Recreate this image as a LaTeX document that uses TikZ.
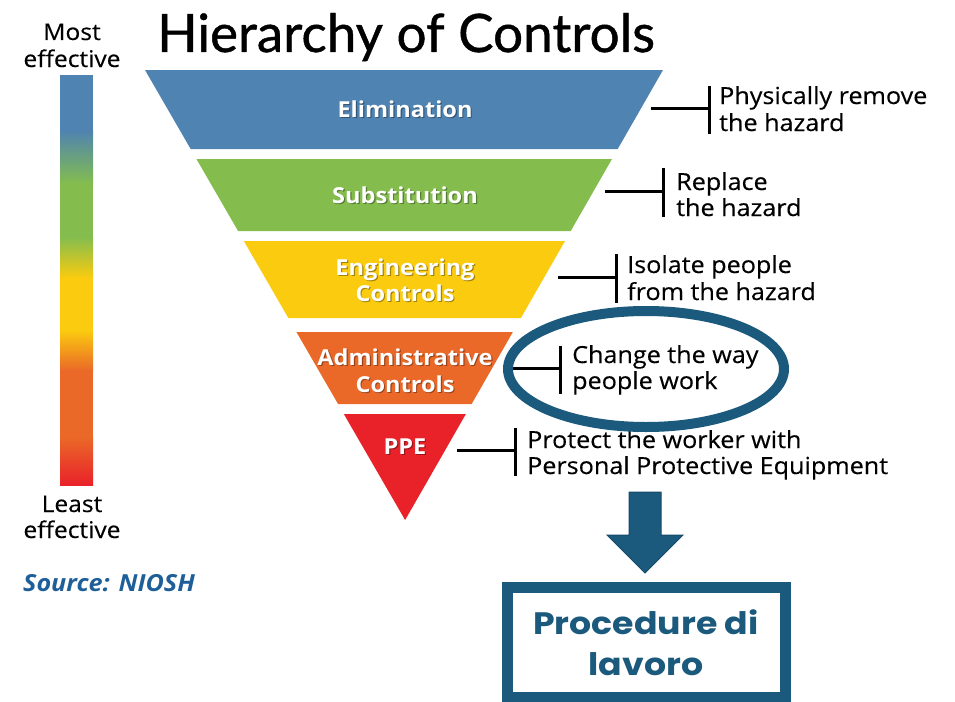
\documentclass[tikz,border=0pt]{standalone}
\usepackage{fontspec}
\setmainfont{Open Sans}[FakeStretch=1.07]
\newfontfamily\descfont{Open Sans}[FakeStretch=1.07,FakeBold=0.3]
\newfontfamily\titlefont{Lato}[FakeBold=0.8]
\newfontfamily\popfont{Poppins}[FakeStretch=1.12]
\definecolor{cblue}{HTML}{4F83B1}
\definecolor{cgreen}{HTML}{84BD4E}
\definecolor{cyellow}{HTML}{FBCB0F}
\definecolor{corange}{HTML}{EA6828}
\definecolor{cred}{HTML}{E9222A}
\definecolor{cdark}{HTML}{1B5A7C}
\definecolor{cdarker}{HTML}{134A69}
\definecolor{csource}{HTML}{1F5F99}
\tikzset{
  bandlabel/.style={text=white, font=\bfseries\fontsize{22}{26}\selectfont, anchor=base},
  shadowlabel/.style={text=black, opacity=0.35, font=\bfseries\fontsize{22}{26}\selectfont, anchor=base},
  desc/.style={text=black, font=\descfont\fontsize{23.5}{26}\selectfont, anchor=base west, inner sep=0pt},
  sidelabel/.style={text=black, font=\descfont\fontsize{23}{26}\selectfont, anchor=base, inner sep=0pt},
  bracket/.style={line width=3pt, black},
}
\newcommand\myband[3]{%
  \fill[#3] ({145+0.578*(#1-70)},#1) -- ({663-0.573*(#1-70)},#1) -- ({663-0.573*(#2-70)},#2) -- ({145+0.578*(#2-70)},#2) -- cycle;}
\newcommand\mylabel[3]{%
  \node[shadowlabel] at ($(#1,#2)+(1.2,1.6)$) {#3};
  \node[bandlabel] at (#1,#2) {#3};}
\usetikzlibrary{calc}
\begin{document}
\begin{tikzpicture}[x=1pt,y=-1pt]
\useasboundingbox (0,0) rectangle (955,701);
% gradient bar
\fill[cblue] (60,75) rectangle (93,131);
\shade[top color=cblue, bottom color=cgreen] (60,130) rectangle (93,184);
\fill[cgreen] (60,183) rectangle (93,238);
\shade[top color=cgreen, bottom color=cyellow] (60,237) rectangle (93,278);
\fill[cyellow] (60,277) rectangle (93,331);
\shade[top color=cyellow, bottom color=corange] (60,330) rectangle (93,371);
\fill[corange] (60,370) rectangle (93,438);
\shade[top color=corange, bottom color=cred] (60,437) rectangle (93,485);
\node[sidelabel] (most) at (72,40) {Most};
\node[sidelabel] (most2) at (72,67) {effective};
\node[sidelabel] (least) at (72,512) {Least};
\node[sidelabel] (least2) at (72,538) {effective};
\node[text=csource, font=\bfseries\itshape\fontsize{23.5}{26}\selectfont, anchor=base west, inner sep=0pt] (src) at (23,591) {Source: NIOSH};
% title
\node[anchor=base west, inner sep=0pt, font=\titlefont\fontsize{53}{60}\selectfont] (title) at (157,52) {Hierarchy of Controls};
% bands
\myband{70}{149}{cblue}
\myband{159}{231}{cgreen}
\myband{241}{318}{cyellow}
\myband{332}{404}{corange}
\myband{414}{520}{cred}
\mylabel{405}{117}{Elimination}
\mylabel{405}{203}{Substitution}
\mylabel{405}{275}{Engineering}
\mylabel{405}{301}{Controls}
\mylabel{405}{365}{Administrative}
\mylabel{405}{392}{Controls}
\mylabel{405}{454}{PPE}
% brackets
\coordinate (e1) at (651,108); \coordinate (e2) at (709,108);
\coordinate (e3) at (709,86); \coordinate (e4) at (709,134);
\draw[bracket] (e1) -- (e2); \draw[bracket] (e3) -- (e4);
\coordinate (s1) at (605,191); \coordinate (s2) at (663,191);
\coordinate (s3) at (663,168); \coordinate (s4) at (663,217);
\draw[bracket] (s1) -- (s2); \draw[bracket] (s3) -- (s4);
\coordinate (g1) at (558,277); \coordinate (g2) at (616,277);
\coordinate (g3) at (616,254); \coordinate (g4) at (616,303);
\draw[bracket] (g1) -- (g2); \draw[bracket] (g3) -- (g4);
\coordinate (a1) at (513,368); \coordinate (a2) at (560,368);
\coordinate (a3) at (560,346); \coordinate (a4) at (560,394);
\draw[bracket] (a1) -- (a2); \draw[bracket] (a3) -- (a4);
\coordinate (p1) at (457,450); \coordinate (p2) at (515,450);
\coordinate (p3) at (515,428); \coordinate (p4) at (515,476);
\draw[bracket] (p1) -- (p2); \draw[bracket] (p3) -- (p4);
% descriptions
\node[desc] (d1a) at (719,104) {Physically remove};
\node[desc] (d1b) at (719,131) {the hazard};
\node[desc] (d2a) at (676,190) {Replace};
\node[desc] (d2b) at (676,216) {the hazard};
\node[desc] (d3a) at (627,273) {Isolate people};
\node[desc] (d3b) at (627,300) {from the hazard};
\node[desc] (d4a) at (572,363) {Change the way};
\node[desc] (d4b) at (572,389) {people work};
\node[desc] (d5a) at (527,448) {Protect the worker with};
\node[desc] (d5b) at (527,474) {Personal Protective Equipment};
% ellipse highlight
\draw[cdark, line width=10pt] (646,369) ellipse [x radius=138, y radius=58];
% arrow
\filldraw[fill=cdark, draw=cdarker, line width=1pt] (629,492) -- (661,492) -- (661,535) -- (683,535) -- (645,573) -- (607,535) -- (629,535) -- cycle;
% box
\draw[cdark, line width=11pt] (507.5,587.5) rectangle (785,697);
\node[text=cdark, font=\popfont\bfseries\fontsize{31}{36}\selectfont, anchor=base, inner sep=0pt] (proc1) at (646,634) {Procedure di};
\node[text=cdark, font=\popfont\bfseries\fontsize{31}{36}\selectfont, anchor=base, inner sep=0pt] (proc2) at (646,675) {lavoro};
\end{tikzpicture}
\end{document}
